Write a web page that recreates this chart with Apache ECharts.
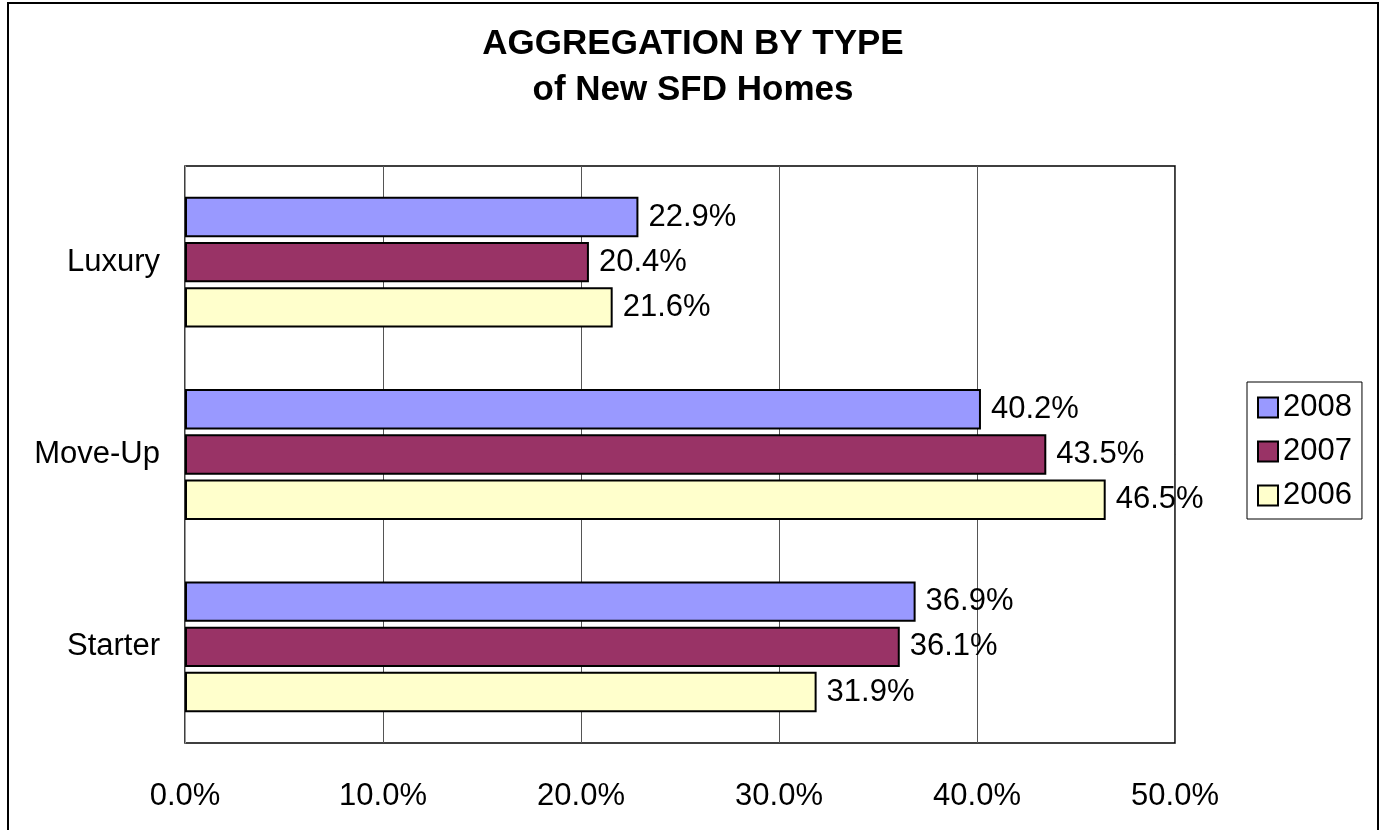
<!DOCTYPE html>
<html>
<head>
<meta charset="utf-8">
<title>Aggregation by Type</title>
<script src="https://cdn.jsdelivr.net/npm/echarts@6/dist/echarts.min.js"></script>
<style>
  html, body { margin: 0; padding: 0; background: #fff; }
  #chart { width: 1386px; height: 830px; }
</style>
</head>
<body>
<div id="chart"></div>
<script>
// data
const categories = ['Luxury', 'Move-Up', 'Starter'];
const years = ['2008', '2007', '2006'];
const colors = ['#9999FF', '#993366', '#FFFFCC'];
const values2008 = [22.9, 40.2, 36.9];
const values2007 = [20.4, 43.5, 36.1];
const values2006 = [21.6, 46.5, 31.9];
const xTicks = [0, 10, 20, 30, 40, 50];

const font = "'Liberation Sans', Arial, sans-serif";
const seriesData = [values2008, values2007, values2006];

const myChart = echarts.init(document.getElementById('chart'), null, { renderer: 'canvas' });

const option = {
    animation: false,
    backgroundColor: '#fff',
    textStyle: { fontFamily: font },
    title: {
        text: 'AGGREGATION BY TYPE\nof New SFD Homes',
        left: 'center',
        top: 16,
        textStyle: {
            fontFamily: font,
            fontSize: 35,
            fontWeight: 'bold',
            lineHeight: 46,
            color: '#000',
        },
    },
    graphic: [
        {
            type: 'rect',
            shape: { x: 8, y: 3, width: 1370, height: 845 },
            style: { fill: 'none', stroke: '#000', lineWidth: 2 },
            silent: true,
        },
    ],
    legend: {
        data: years,
        orient: 'vertical',
        left: 1247,
        top: 382,
        padding: [10, 10, 8, 10],
        itemWidth: 20,
        itemHeight: 20,
        itemGap: 13,
        borderColor: '#000',
        borderWidth: 1,
        icon: 'rect',
        itemStyle: { borderColor: '#000', borderWidth: 2 },
        textStyle: { fontFamily: font, fontSize: 31, lineHeight: 30, color: '#000', padding: [0, 0, 0, 0] },
    },
    grid: {
        left: 185,
        right: 211,
        top: 166,
        bottom: 87,
        show: true,
        borderColor: '#000',
        borderWidth: 1.5,
        containLabel: false,
    },
    xAxis: {
        type: 'value',
        min: xTicks[0],
        max: xTicks[xTicks.length - 1],
        interval: 10,
        axisLine: { show: false },
        axisTick: { show: false },
        splitLine: { show: true, lineStyle: { color: '#555', width: 1 } },
        axisLabel: {
            fontFamily: font,
            fontSize: 31,
            color: '#000',
            margin: 38,
            formatter: v => v.toFixed(1) + '%',
        },
    },
    yAxis: {
        type: 'category',
        data: categories,
        inverse: true,
        axisLine: { show: true, lineStyle: { color: '#999', width: 1 } },
        axisTick: { show: false },
        axisLabel: { fontFamily: font, fontSize: 31, color: '#000', margin: 25 },
    },
    series: years.map((y, i) => ({
        name: y,
        type: 'bar',
        data: seriesData[i],
        barCategoryGap: '32%',
        barGap: '12%',
        itemStyle: {
            color: colors[i],
            borderColor: '#000',
            borderWidth: 2,
        },
        label: {
            show: true,
            position: 'right',
            distance: 10,
            fontFamily: font,
            fontSize: 31,
            color: '#000',
            formatter: p => p.value.toFixed(1) + '%',
        },
    })),
};

myChart.setOption(option);
</script>
</body>
</html>
